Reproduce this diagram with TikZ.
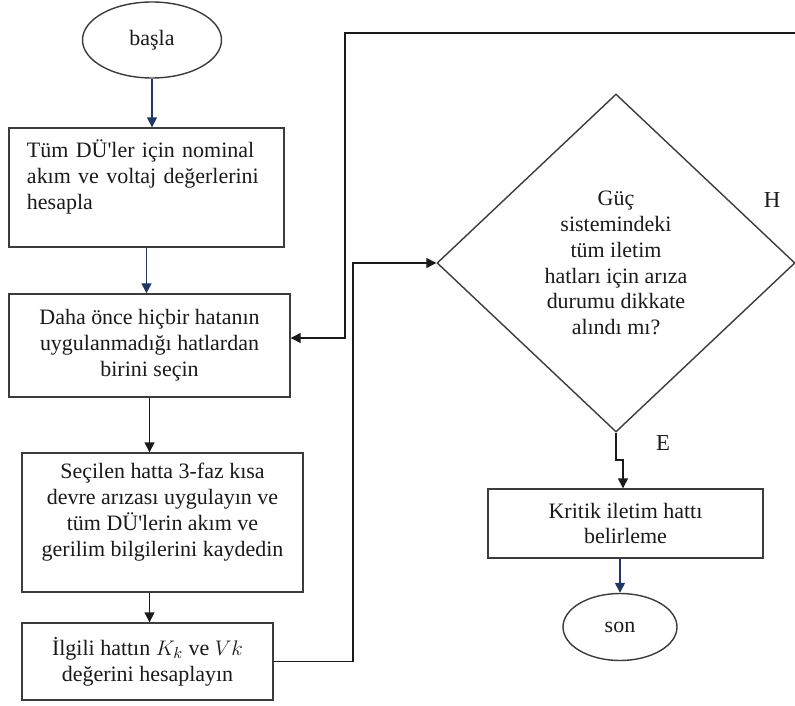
\documentclass[tikz,border=0pt]{standalone}
\usepackage{fontspec}
\setmainfont{LiberationSerif}[Extension=.ttf, UprightFont=*-Regular, BoldFont=*-Bold, ItalicFont=*-Italic, BoldItalicFont=*-BoldItalic]
\usetikzlibrary{positioning,arrows.meta,shapes.geometric}
\definecolor{navy}{HTML}{1F3864}
\definecolor{edge}{HTML}{3C3C3C}
\definecolor{ink}{HTML}{1A1A1A}
\tikzset{
  box/.style ={draw=edge, line width=.8pt, fill=white, align=center, inner sep=3pt, text=ink, font=\fontsize{12.5}{14.7}\selectfont},
  term/.style={draw=edge, line width=.8pt, ellipse, inner sep=0pt, text=ink, font=\fontsize{12.5}{14.7}\selectfont},
  dec/.style ={draw=edge, line width=.8pt, diamond, aspect=1.06, inner sep=0pt, align=center, text=ink, font=\fontsize{12.5}{14.7}\selectfont},
  ln/.style  ={draw=ink,  line width=.8pt, -{Triangle[length=2mm,width=2mm]}},
  lnn/.style ={draw=navy, line width=.8pt, -{Triangle[length=2mm,width=2mm]}},
  tag/.style ={text=ink, font=\fontsize{13}{15}\selectfont},
}

\begin{document}
\begin{tikzpicture}
    \useasboundingbox (0,0) rectangle (15.9,-14.12);
    \node[term,minimum width=2.78cm,minimum height=1.52cm] (start) at (3.04,-0.80) {başla};
    \node[box,text width=4.78cm,align=left,inner xsep=.36cm,minimum height=2.38cm] (calc) at (2.93,-3.75)
      {Tüm DÜ\textquotesingle ler için nominal\\ akım ve voltaj değerlerini\\ hesapla\\ ~};
    \node[box,minimum width=5.62cm,minimum height=2.06cm] (pick) at (2.99,-6.91)
      {Daha önce hiçbir hatanın\\ uygulanmadığı hatlardan\\ birini seçin};
    \node[box,minimum width=5.62cm,minimum height=2.78cm] (fault) at (3.25,-10.45)
      {Seçilen hatta 3-faz kısa\\ devre arızası uygulayın ve\\ tüm DÜ\textquotesingle lerin akım ve\\ gerilim bilgilerini kaydedin\\ ~};
    \node[box,minimum width=5.02cm,minimum height=1.54cm] (kk) at (2.95,-13.23)
      {İlgili hattın $K_k$ ve $Vk$\\ değerini hesaplayın};
    \node[dec,minimum width=7.16cm,minimum height=6.76cm] (chk) at (12.32,-5.26)
      {Güç\\ sistemindeki\\ tüm iletim\\ hatları için arıza\\ durumu dikkate\\ alındı mı?};
    \node[box,minimum width=5.5cm,minimum height=1.38cm] (crit) at (12.51,-10.47)
      {Kritik iletim hattı\\ belirleme};
    \node[term,minimum width=2.28cm,minimum height=1.34cm] (stop) at (12.40,-12.54) {son};
    \node[tag] (h) at (15.44,-4.0) {H};
    \node[tag] (e) at (13.26,-8.86) {E};
    \coordinate (rise) at (7.06,-13.23);
    \coordinate (back) at (6.9,-0.66);
    \coordinate (ret) at (6.9,-6.76);
    \coordinate (jog) at (12.46,-9.2);
    \draw[lnn] (start) -- (start|-calc.north);
    \draw[lnn] (calc.south) -- (calc.south|-pick.north);
    \draw[ln] (pick.south) -- (pick.south|-fault.north);
    \draw[ln] (pick.south|-fault.south) -- (pick.south|-kk.north);
    \draw[ln] (kk.east) -- (rise) |- (chk.west);
    \draw[ln] (chk.east) |- (back) -- (ret) -- (ret-|pick.east);
    \draw[ln] (chk.south) |- (jog) -- (jog|-crit.north);
    \draw[lnn] (stop|-crit.south) -- (stop.north);
\end{tikzpicture}
\end{document}
